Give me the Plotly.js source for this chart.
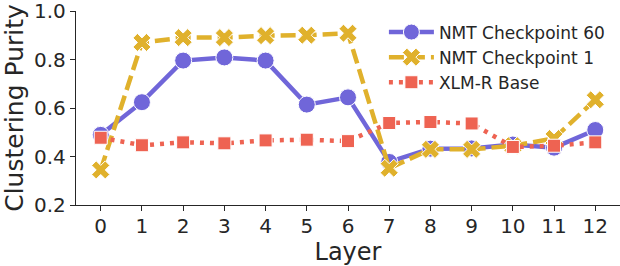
<!DOCTYPE html>
<html>
<head>
<meta charset="utf-8">
<script src="https://cdn.plot.ly/plotly-3.0.1.min.js"></script>
<style>html,body{margin:0;padding:0;background:#fff;}#chart{width:620px;height:266px;}</style>
</head>
<body>
<div id="chart"></div>
<script>
const layers = [0,1,2,3,4,5,6,7,8,9,10,11,12];
const tickLabels = ["0","1","2","3","4","5","6","7","8","9","10","11","12"];
const yTicks = [0.2,0.4,0.6,0.8,1.0];
const yTickLabels = ["0.2","0.4","0.6","0.8","1.0"];
const nmt60 = [0.49,0.625,0.797,0.81,0.797,0.615,0.645,0.378,0.433,0.434,0.45,0.437,0.51];
const nmt1  = [0.345,0.872,0.892,0.892,0.9,0.902,0.91,0.352,0.43,0.43,0.445,0.475,0.635];
const xlmr  = [0.478,0.447,0.459,0.455,0.467,0.47,0.464,0.539,0.543,0.537,0.44,0.445,0.459];
const names = ["NMT Checkpoint 60","NMT Checkpoint 1","XLM-R Base"];

const traces = [
  {x: layers, y: nmt60, name: names[0], legendgroup: 'a', mode: 'lines+markers',
   line: {color: '#7066d9', width: 4.5, dash: 'solid'},
   marker: {symbol: 'circle', size: 17, color: '#7066d9', line: {color: '#ffffff', width: 1}}},
  {x: layers, y: nmt1, name: names[1], legendgroup: 'b', mode: 'lines+markers',
   line: {color: '#e0b12c', width: 4.5, dash: '15px,6px'},
   marker: {symbol: 'x', size: 16, color: '#e0b12c', line: {color: '#ffffff', width: 1}}},
  {x: layers, y: xlmr, name: names[2], legendgroup: 'c', mode: 'lines+markers',
   line: {color: '#ee6352', width: 4.5, dash: '4px,6px'},
   marker: {symbol: 'square', size: 13, color: '#ee6352', line: {color: '#ffffff', width: 1}}}
];

const layout = {
  width: 620, height: 266,
  margin: {l: 76, r: 0, t: 11, b: 61},
  paper_bgcolor: '#fff', plot_bgcolor: '#fff',
  font: {family: 'DejaVu Sans', color: '#262626'},
  showlegend: true,
  legend: {x: 0.566, y: 0.982, xanchor: 'left', yanchor: 'top', font: {size: 17, color: '#262626'},
           bgcolor: 'rgba(255,255,255,0)', itemwidth: 45, traceorder: 'grouped', tracegroupgap: 0},
  xaxis: {
    range: [-0.6, 12.6], tickmode: 'array', tickvals: layers, ticktext: tickLabels,
    showgrid: false, zeroline: false, showline: true, linecolor: '#262626', linewidth: 1.2,
    ticks: 'outside', ticklen: 5, tickcolor: '#262626', tickfont: {size: 20},
    ticklabeloverflow: 'allow', ticklabelstandoff: -2,
    title: {text: 'Layer', font: {size: 24}, standoff: 2}
  },
  yaxis: {
    range: [0.2, 1.002], tickmode: 'array', tickvals: yTicks, ticktext: yTickLabels,
    showgrid: false, zeroline: false, showline: true, linecolor: '#262626', linewidth: 1.2,
    ticks: 'outside', ticklen: 5, tickcolor: '#262626', tickfont: {size: 20},
    ticklabeloverflow: 'allow',
    title: {text: 'Clustering Purity', font: {size: 25}, standoff: 5}
  }
};

Plotly.newPlot('chart', traces, layout, {staticPlot: true, displayModeBar: false});
</script>
</body>
</html>
